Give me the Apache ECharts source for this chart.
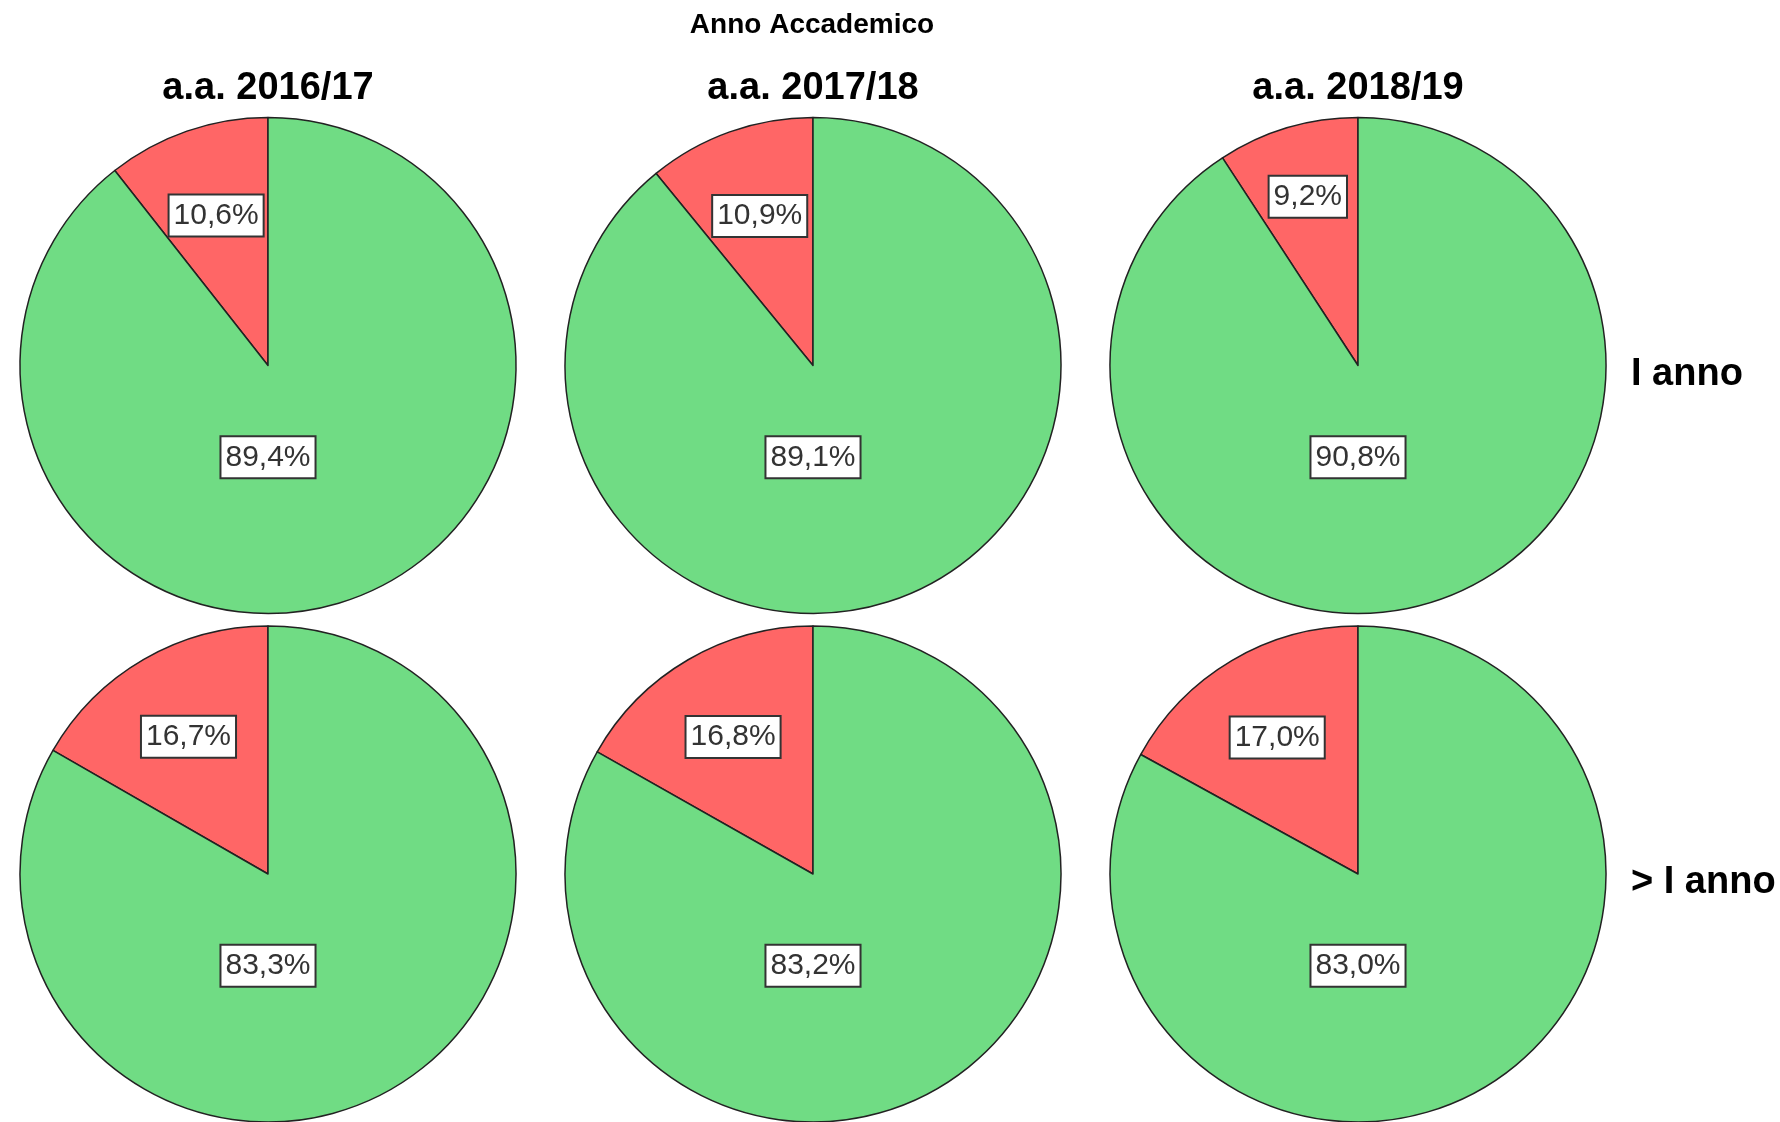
<!DOCTYPE html>
<html style="height: 100%">
<head>
	<meta charset="UTF-8">
	<title>Anno Accademico</title>
	<script src="https://cdn.jsdelivr.net/npm/echarts@6/dist/echarts.min.js"></script>
</head>
<body style="height: 100%; margin: 0; background: #fff">
	<div id="container" style="width: 1780px; height: 1122px;"></div>
	<script type="text/javascript">
		// dati
		var anni = ['a.a. 2016/17', 'a.a. 2017/18', 'a.a. 2018/19'];
		var righe = ['I anno', '> I anno'];
		var rossoVal = [
			[10.6, 10.9, 9.2],
			[16.7, 16.8, 17.0]
		];
		var verdeVal = [
			[89.4, 89.1, 90.8],
			[83.3, 83.2, 83.0]
		];

		// layout (pixel)
		var colX = [268, 813, 1358];
		var rowY = [365.5, 874];
		var R = 248;
		var FONT = '"Liberation Sans", Arial, sans-serif';

		var dom = document.getElementById('container');
		var myChart = echarts.init(dom, null, { renderer: 'canvas' });

		function fmt(v) {
			return v.toFixed(1).replace('.', ',') + '%';
		}

		var labelStyle = {
			show: true,
			position: 'inside',
			formatter: function (p) { return fmt(p.value); },
			fontFamily: FONT,
			fontSize: 30,
			color: '#333',
			backgroundColor: '#fff',
			borderColor: '#333',
			borderWidth: 2,
			padding: [5, 4]
		};

		var titles = [{
			text: 'Anno Accademico',
			left: 812, top: 11, textAlign: 'center', padding: 0,
			textStyle: { fontFamily: FONT, fontSize: 28, fontWeight: 'bold', color: '#000' }
		}];
		anni.forEach(function (a, j) {
			titles.push({
				text: a, left: colX[j], top: 70, textAlign: 'center', padding: 0,
				textStyle: { fontFamily: FONT, fontSize: 38, fontWeight: 'bold', color: '#000' }
			});
		});
		righe.forEach(function (r, i) {
			titles.push({
				text: r, left: 1631, top: rowY[i] - 10, padding: 0,
				textStyle: { fontFamily: FONT, fontSize: 38, fontWeight: 'bold', color: '#000' }
			});
		});

		var series = [];
		righe.forEach(function (r, i) {
			anni.forEach(function (a, j) {
				series.push({
					name: r + ' ' + a,
					type: 'pie',
					center: [colX[j], rowY[i]],
					radius: R,
					startAngle: 90,
					clockwise: false,
					silent: true,
					label: labelStyle,
					labelLine: { show: false },
					emphasis: { disabled: true },
					itemStyle: { borderColor: '#222', borderWidth: 1.5 },
					labelLayout: (function (ii, jj) {
						return function (p) {
							var cx = colX[jj], cy = rowY[ii];
							if (p.dataIndex === 0) {
								var v = rossoVal[ii][jj];
								var ang = v / 100 * Math.PI;
								// fetta stretta: etichetta spinta verso il bordo
								var k = (v < 10 ? 0.71 : 0.64) * R;
								return { x: cx - k * Math.sin(ang), y: cy - k * Math.cos(ang) };
							}
							return { x: cx, y: cy + 0.37 * R };
						};
					})(i, j),
					data: [
						{ name: 'No', value: rossoVal[i][j], itemStyle: { color: '#ff6666' } },
						{ name: 'Sì', value: verdeVal[i][j], itemStyle: { color: '#70dc84' } }
					]
				});
			});
		});

		var option = {
			animation: false,
			backgroundColor: '#fff',
			title: titles,
			series: series
		};
		myChart.setOption(option);
	</script>
</body>
</html>
